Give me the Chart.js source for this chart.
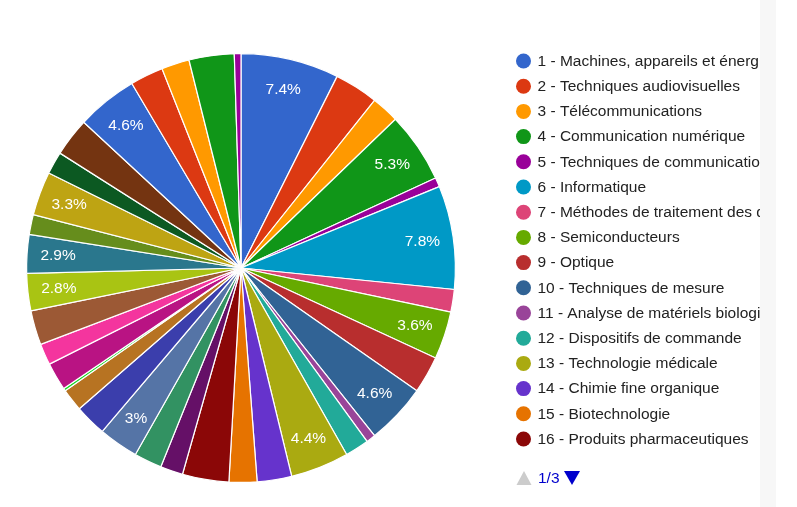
<!DOCTYPE html>
<html>
<head>
<meta charset="utf-8">
<script src="https://cdn.jsdelivr.net/npm/chart.js@4/dist/chart.umd.min.js"></script>
<style>
  html, body { margin: 0; padding: 0; background: #ffffff; }
  #wrap { position: relative; width: 797px; height: 507px; }
</style>
</head>
<body>
<div id="wrap"><canvas id="pieChartID" width="797" height="507"></canvas></div>
<script>
'use strict';

// technology fields (WIPO), share of filings in %
const categories = [
  '1 - Machines, appareils et énergie électriques',
  '2 - Techniques audiovisuelles',
  '3 - Télécommunications',
  '4 - Communication numérique',
  '5 - Techniques de communication de base',
  '6 - Informatique',
  '7 - Méthodes de traitement des données à des fins de gestion',
  '8 - Semiconducteurs',
  '9 - Optique',
  '10 - Techniques de mesure',
  '11 - Analyse de matériels biologiques',
  '12 - Dispositifs de commande',
  '13 - Technologie médicale',
  '14 - Chimie fine organique',
  '15 - Biotechnologie',
  '16 - Produits pharmaceutiques',
  '17 - Chimie macromoléculaire, polymères',
  '18 - Chimie alimentaire',
  '19 - Chimie de base',
  '20 - Matériaux, métallurgie',
  '21 - Traitement de surfaces, revêtement',
  '22 - Technologie des microstructures et nanotechnologie',
  '23 - Génie chimique',
  '24 - Technologie environnementale',
  '25 - Manutention',
  '26 - Machines-outils',
  '27 - Moteurs, pompes, turbines',
  '28 - Machines à fabriquer du papier et des textiles',
  '29 - Autres machines spéciales',
  '30 - Procédés et appareils thermiques',
  '31 - Composants mécaniques',
  '32 - Transports',
  '33 - Mobilier, jeux',
  '34 - Autres biens de consommation',
  '35 - Génie civil',
  '36 - Non classé'
];

const shares = [
  7.4, 3.3, 2.1, 5.3, 0.7, 7.8, 1.7, 3.6, 2.8, 4.6,
  0.7, 1.8, 4.4, 2.6, 2.1, 3.5, 1.7, 2.1, 3.0, 2.4,
  1.7, 0.2, 2.1, 1.6, 2.6, 2.8, 2.9, 1.5, 3.3, 1.7,
  2.9, 4.6, 2.5, 2.1, 3.4, 0.5
];

const palette = [
  '#3366cc', '#dc3912', '#ff9900', '#109618', '#990099', '#0099c6', '#dd4477',
  '#66aa00', '#b82e2e', '#316395', '#994499', '#22aa99', '#aaaa11', '#6633cc',
  '#e67300', '#8b0707', '#651067', '#329262', '#5574a6', '#3b3eac', '#b77322',
  '#16d620', '#b91383', '#f4359e', '#9c5935', '#a9c413', '#2a778d', '#668d1c',
  '#bea413', '#0c5922', '#743411'
];

const pageSize = 16;
const currentPage = 1;
const FONT = '15.5px Arial, "Liberation Sans", sans-serif';

let sliceColors = [];
for (let i = 0; i < shares.length; i++) {
  sliceColors.push(palette[i % palette.length]);
}

function pctText(v, total) {
  let p = (v / total * 100).toFixed(1);
  if (p.endsWith('.0')) p = p.slice(0, -2);
  return p + '%';
}

// slice labels, only where the text fits in the slice
const sliceLabels = {
  id: 'sliceLabels',
  afterDatasetsDraw(chart) {
    const ctx = chart.ctx;
    const arcs = chart.getDatasetMeta(0).data;
    const total = shares.reduce((a, b) => a + b, 0);
    ctx.save();
    ctx.font = FONT;
    ctx.fillStyle = '#ffffff';
    ctx.textAlign = 'center';
    ctx.textBaseline = 'middle';
    for (let i = 0; i < arcs.length; i++) {
      const a = arcs[i];
      const mid = (a.startAngle + a.endAngle) / 2;
      const r = a.outerRadius * 0.855;
      const txt = pctText(shares[i], total);
      const w = ctx.measureText(txt).width;
      const h = 15;
      const room = r * (a.endAngle - a.startAngle);
      const need = w * Math.abs(Math.sin(mid)) + h * Math.abs(Math.cos(mid));
      if (room - need < 7) continue;
      ctx.fillText(txt, a.x + Math.cos(mid) * r, a.y + Math.sin(mid) * r);
    }
    ctx.restore();
  }
};

// paged legend on the right
const pagedLegend = {
  id: 'pagedLegend',
  afterDraw(chart) {
    const ctx = chart.ctx;
    const first = (currentPage - 1) * pageSize;
    const last = Math.min(first + pageSize, categories.length);
    const pages = Math.ceil(categories.length / pageSize);
    const x0 = 523.5, y0 = 61, step = 25.2;
    ctx.save();
    ctx.beginPath();
    ctx.rect(500, 0, 260, 507);
    ctx.clip();
    ctx.font = FONT;
    ctx.textBaseline = 'middle';
    ctx.textAlign = 'left';
    for (let i = first; i < last; i++) {
      const y = y0 + (i - first) * step;
      ctx.fillStyle = sliceColors[i];
      ctx.beginPath();
      ctx.arc(x0, y, 7.5, 0, Math.PI * 2);
      ctx.fill();
      ctx.fillStyle = '#222222';
      ctx.fillText(categories[i], 537.5, y + 0.5);
    }
    ctx.restore();

    // pager
    const py = 478;
    ctx.save();
    ctx.fillStyle = '#cccccc';
    ctx.beginPath();
    ctx.moveTo(516.5, py + 7);
    ctx.lineTo(531.5, py + 7);
    ctx.lineTo(524, py - 7);
    ctx.closePath();
    ctx.fill();
    ctx.font = FONT;
    ctx.fillStyle = '#0000cc';
    ctx.textBaseline = 'middle';
    ctx.fillText(currentPage + '/' + pages, 538, py + 0.5);
    ctx.beginPath();
    ctx.moveTo(564, py - 7);
    ctx.lineTo(580, py - 7);
    ctx.lineTo(572, py + 7);
    ctx.closePath();
    ctx.fill();

    // side strip
    ctx.fillStyle = '#f7f7f7';
    ctx.fillRect(760, 0, 16, 507);
    ctx.restore();
  }
};

const data = {
  labels: categories,
  datasets: [{
    data: shares,
    backgroundColor: sliceColors,
    borderColor: '#ffffff',
    borderWidth: 1.2,
    hoverOffset: 0
  }]
};

const config = {
  type: 'pie',
  data: data,
  options: {
    responsive: false,
    animation: false,
    layout: {
      padding: { left: 26, right: 341, top: 53, bottom: 24 }
    },
    plugins: {
      legend: { display: false },
      tooltip: { enabled: false }
    }
  },
  plugins: [sliceLabels, pagedLegend]
};

const pieChart = new Chart(document.getElementById('pieChartID'), config);
</script>
</body>
</html>
